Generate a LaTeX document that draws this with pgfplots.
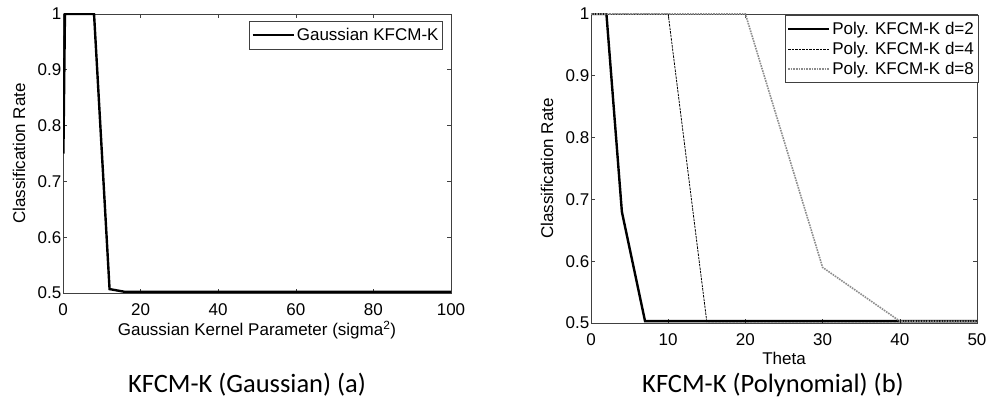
\documentclass[border=0pt]{standalone}
\usepackage{pgfplots}
\pgfplotsset{compat=1.18}
\usepackage{fontspec}
\setmainfont{Liberation Sans}
\newfontfamily\capfont{Carlito}

\pgfplotsset{
  matlab/.style={
    scale only axis,
    axis line style={black!75, line width=0.6pt},
    tick style={black!75, line width=0.6pt},
    tick align=inside,
    major tick length=4pt,
    ticklabel style={font=\fontsize{17}{20}\selectfont},
    yticklabel style={inner sep=1.5pt},
    xticklabel style={inner sep=2pt, yshift=-8pt},
    /pgf/number format/assume math mode=true,
    label style={font=\fontsize{17}{20}\selectfont},
    legend style={font=\fontsize{17}{20}\selectfont, draw=black!75, line width=0.6pt,
      inner xsep=2pt, inner ysep=5pt, row sep=2pt},
    legend cell align=left,
    legend image code/.code={\draw[#1] (5pt,0pt) -- (46pt,0pt);},
    ylabel style={at={(axis description cs:0,0.5)}, anchor=center},
    xlabel style={at={(axis description cs:0.5,0)}, anchor=center},
  }
}

\begin{document}
\begin{tikzpicture}
\useasboundingbox (0pt,0pt) rectangle (989pt,404pt);

% (a) Gaussian
\begin{axis}[matlab,
  at={(63pt,111pt)}, anchor=south west,
  width=388pt, height=279pt,
  xmin=0, xmax=100, ymin=0.5, ymax=1,
  xtick={0,20,...,100}, ytick={0.5,0.6,...,1},
  yticklabels={0.5,0.6,0.7,0.8,0.9,1},
  xlabel={Gaussian Kernel Parameter (sigma\textsuperscript{2})},
  xlabel style={yshift=-37pt},
  ylabel={Classification Rate},
  ylabel style={yshift=44pt},
  legend style={at={(0.979,0.975)}, anchor=north east},
]
\addplot[black, line width=2.4pt] coordinates {
  (0.1,0.75) (0.5,1) (8,1) (12,0.507) (16,0.502) (20,0.502) (100,0.502)
};
\addlegendentry{Gaussian KFCM-K}
\end{axis}

% (b) Polynomial
\begin{axis}[matlab,
  at={(591pt,81pt)}, anchor=south west,
  width=386pt, height=309pt,
  xmin=0, xmax=50, ymin=0.5, ymax=1,
  xtick={0,10,...,50}, ytick={0.5,0.6,...,1},
  yticklabels={0.5,0.6,0.7,0.8,0.9,1},
  xlabel={Theta},
  xlabel style={yshift=-35pt},
  ylabel={Classification Rate},
  ylabel style={yshift=44pt},
  legend style={at={(1.003,0.997)}, anchor=north east},
]
\addplot[black, line width=2.4pt] coordinates {
  (0,1) (2,1) (4,0.68) (7,0.503) (50,0.503)
};
\addlegendentry{Poly. KFCM-K d=2}
\addplot[black, line width=0.8pt, dash pattern=on 2.5pt off 1pt] coordinates {
  (0,1) (10,1) (15,0.502) (50,0.502)
};
\addlegendentry{Poly. KFCM-K d=4}
\addplot[black!45, line width=1.6pt, densely dotted] coordinates {
  (0,1) (20,1) (30,0.59) (40,0.503) (50,0.503)
};
\addlegendentry{Poly. KFCM-K d=8}
\end{axis}

\node[font=\capfont\fontsize{26.5}{30}\selectfont] at (247pt,19pt) {KFCM-K (Gaussian) (a)};
\node[font=\capfont\fontsize{26.5}{30}\selectfont] at (773pt,19pt) {KFCM-K (Polynomial) (b)};
\end{tikzpicture}
\end{document}
